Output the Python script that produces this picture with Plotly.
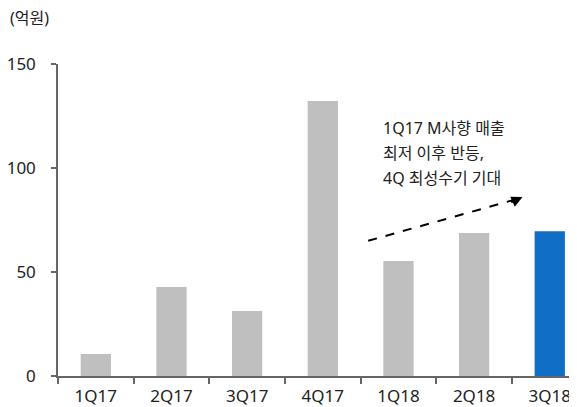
import plotly.graph_objects as go

categories = ["1Q17", "2Q17", "3Q17", "4Q17", "1Q18", "2Q18", "3Q18"]
values = [10.6, 42.8, 31.2, 132.2, 55.3, 68.7, 69.6]
bar_colors = ["#BFBFBF"] * 6 + ["#106EC7"]
y_ticks = [0, 50, 100, 150]
unit_label = "(억원)"
note_lines = ["1Q17 M사향 매출", "최저 이후 반등,", "4Q 최성수기 기대"]

FONT = "Noto Sans, Noto Sans CJK KR"
TXT = "#222222"
AX = "#666666"
x_idx = list(range(len(categories)))

# page body has an 8px margin -> compensate
W, H = 569, 399
L, T, B, R = 50, 56, 31, 0
PW, PH = W - L - R, H - T - B  # 519 x 312

fig = go.Figure()
fig.add_trace(go.Bar(
    x=x_idx, y=values, marker=dict(color=bar_colors, line=dict(width=0)),
    width=0.4, hoverinfo="skip",
))

# dashed trend arrow
fig.add_shape(type="line", x0=3.6, y0=65, x1=5.55, y1=84.9,
              line=dict(color="black", width=2, dash="dash"), xref="x", yref="y")
fig.add_annotation(x=5.64, y=86, ax=5.47, ay=83.2, axref="x", ayref="y",
                   xref="x", yref="y", showarrow=True, arrowhead=2,
                   arrowsize=1.1, arrowwidth=2, arrowcolor="black", text="")

note_y = [119.0, 107.0, 95.0]
for line, yy in zip(note_lines, note_y):
    fig.add_annotation(x=3.77, y=yy, xref="x", yref="y", xanchor="left",
                       yanchor="middle", text=line, showarrow=False,
                       font=dict(family=FONT, size=16, color=TXT))

fig.add_annotation(x=(0 - L) / PW, y=(PH + T - 10) / PH, xref="paper", yref="paper",
                   xanchor="left", yanchor="middle", text=unit_label, showarrow=False,
                   font=dict(family=FONT, size=16, color=TXT))

fig.update_layout(
    width=W, height=H,
    margin=dict(l=L, r=R, t=T, b=B, pad=0),
    paper_bgcolor="white", plot_bgcolor="white",
    showlegend=False,
    font=dict(family=FONT, size=17, color=TXT),
)

fig.update_xaxes(
    range=[-0.5, 6.36], tickmode="array", tickvals=x_idx, ticktext=categories,
    showline=True, linecolor=AX, linewidth=1.5,
    ticks="", showgrid=False, zeroline=False, automargin=False,
    ticklabelstandoff=4, ticklabeloverflow="allow",
    tickfont=dict(family=FONT, size=17, color=TXT),
    minor=dict(tickmode="linear", tick0=0.5, dtick=1, ticks="outside",
               ticklen=6, tickcolor=AX, tickwidth=1.5, showgrid=False),
)

fig.update_yaxes(
    range=[0, 150], tickvals=y_ticks, showline=True, linecolor=AX,
    linewidth=1.5, ticks="outside", ticklen=5, tickcolor=AX, tickwidth=1.5,
    showgrid=False, zeroline=False, automargin=False,
    ticklabelstandoff=12,
    tickfont=dict(family=FONT, size=17, color=TXT),
)

fig.write_html("out.html")
